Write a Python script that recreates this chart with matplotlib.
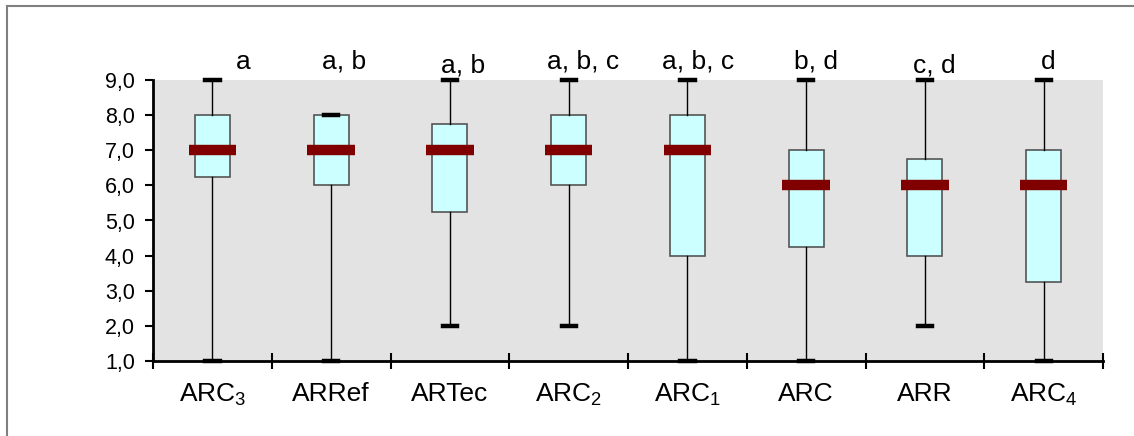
import matplotlib
matplotlib.use("Agg")
import matplotlib.pyplot as plt
from matplotlib.lines import Line2D

plt.rcParams['font.family'] = ['Liberation Sans', 'DejaVu Sans']
plt.rcParams['mathtext.default'] = 'regular'

labels = [r'ARC$_3$', 'ARRef', 'ARTec', r'ARC$_2$', r'ARC$_1$', 'ARC', 'ARR', r'ARC$_4$']
mins = [1, 1, 2, 2, 1, 1, 2, 1]
q1s = [6.25, 6, 5.25, 6, 4, 4.25, 4, 3.25]
medians = [7, 7, 7, 7, 7, 6, 6, 6]
q3s = [8, 8, 7.75, 8, 8, 7, 6.75, 7]
maxs = [9, 8, 9, 9, 9, 9, 9, 9]
letters = ['a', 'a, b', 'a, b', 'a, b, c', 'a, b, c', 'b, d', 'c, d', 'd']
yticks = [1, 2, 3, 4, 5, 6, 7, 8, 9]

# letter placement offsets (pixels) relative to each box centre
letter_dx = [31, 13, 13, 14, 11, 10, 9, 5]
letter_dy = [18, 18, 15, 18, 18, 18, 15, 18]

W, H = 1134, 436
fig = plt.figure(figsize=(W / 100, H / 100), dpi=100)
ax = fig.add_axes([153 / W, (H - 361) / H, 950 / W, 281 / H])
ax.set_facecolor('#E3E3E3')

stats = []
for i in range(len(labels)):
    stats.append(dict(whislo=mins[i], q1=q1s[i], med=medians[i], q3=q3s[i], whishi=maxs[i], fliers=[]))

pos = list(range(len(labels)))
bp = ax.bxp(stats, positions=pos, widths=0.295, patch_artist=True, showfliers=False,
            boxprops=dict(facecolor='#CCFFFF', edgecolor='#555555', linewidth=1.2),
            whiskerprops=dict(color='black', linewidth=1.0),
            capprops=dict(color='black', linewidth=3.2),
            medianprops=dict(color='none'), capwidths=0.12)
for c in bp['caps']:
    c.set_clip_on(False)
    c.set_zorder(5)
for w in bp['whiskers']:
    w.set_clip_on(False)
for i, m in enumerate(medians):
    ax.plot([pos[i] - 0.2, pos[i] + 0.2], [m, m], color='#800000', linewidth=7.5,
            solid_capstyle='butt', zorder=6)

ax.set_xlim(-0.5, len(labels) - 0.5)
ax.set_ylim(1, 9)
ax.set_yticks(yticks)
ax.set_yticklabels([f'{v:.1f}'.replace('.', ',') for v in yticks], fontsize=15.5)
ax.tick_params(axis='y', direction='out', length=6, width=1.5, pad=7)

bounds = [i - 0.5 for i in range(len(labels) + 1)]
ax.set_xticks(bounds)
ax.set_xticklabels([''] * len(bounds))
ax.tick_params(axis='x', which='major', direction='inout', length=11, width=1.5)
ax.set_xticks(pos, minor=True)
ax.set_xticklabels(labels, minor=True, fontsize=19)
ax.tick_params(axis='x', which='minor', length=0, pad=15)

for s in ['top', 'right']:
    ax.spines[s].set_visible(False)
for s in ['left', 'bottom']:
    ax.spines[s].set_linewidth(2)
    ax.spines[s].set_color('black')
    ax.spines[s].set_zorder(7)

for i, t in enumerate(letters):
    ax.annotate(t, xy=(pos[i], 9), xytext=(letter_dx[i], letter_dy[i]), textcoords='offset pixels',
                ha='center', va='center', fontsize=19, annotation_clip=False)

fig.add_artist(Line2D([6.5 / W, 6.5 / W], [0, 1 - 6.5 / H], color='#808080', lw=1.5, transform=fig.transFigure))
fig.add_artist(Line2D([6.5 / W, 1], [1 - 6.5 / H, 1 - 6.5 / H], color='#808080', lw=1.5, transform=fig.transFigure))

fig.savefig('out.png', dpi=100)
